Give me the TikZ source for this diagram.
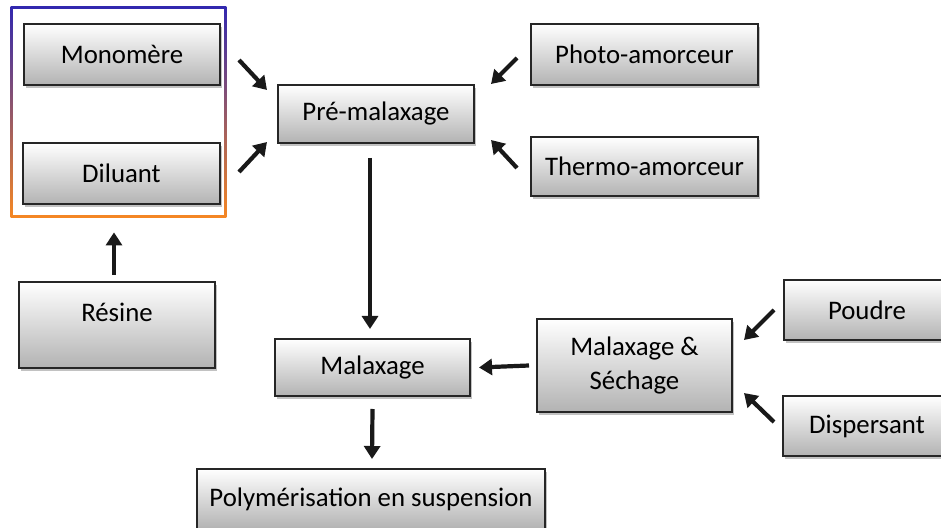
\documentclass[tikz,border=0pt]{standalone}
\usepackage{fontspec}
\setmainfont{Carlito}
\usepackage{tikz}
\usetikzlibrary{arrows.meta,shadows}

\tikzset{
  box/.style={draw=black!85, line width=1pt, top color=white, bottom color=black!30,
    inner sep=2pt, align=center, font=\fontsize{13.4}{17}\selectfont,
    drop shadow={shadow xshift=1.2pt, shadow yshift=-1.5pt, opacity=.4, fill=black!60}},
  arr/.style={-{Triangle[width=8pt,length=6.5pt]}, line width=2.1pt, black!90}
}

\begin{document}
\begin{tikzpicture}[x=0.5pt, y=-0.5pt]
   \useasboundingbox (0,0) rectangle (941,528);
   \clip (0,0) rectangle (941,528);

   % group frame
   \node[inner sep=0, minimum width=107.5pt, minimum height=105pt] (grp) at (118.5,112) {};
   \shade[top color={rgb,255:red,50;green,40;blue,175}, middle color={rgb,255:red,215;green,30;blue,85},
          bottom color={rgb,255:red,245;green,135;blue,35}]
      (grp.north west) rectangle (grp.south east);
   \fill[white] ([shift={(2,2)}]grp.north west) rectangle ([shift={(-2,-2)}]grp.south east);

   \node[box, minimum width=98pt, minimum height=30.5pt] (mono) at (122,54.5) {Monomère};
   \node[box, minimum width=98.5pt, minimum height=30.5pt] (dil) at (121.5,173.5) {Diluant};
   \node[box, minimum width=98pt, minimum height=43pt, text depth=13pt] (res) at (117,325) {Résine};
   \node[box, minimum width=98pt, minimum height=29pt] (pre) at (376,114) {Pré-malaxage};
   \node[box, minimum width=113.5pt, minimum height=30.5pt] (photo) at (644.5,54.5) {Photo-amorceur};
   \node[box, minimum width=113.5pt, minimum height=29.5pt] (thermo) at (644.5,166.5) {Thermo-amorceur};
   \node[box, minimum width=97.5pt, minimum height=28.5pt] (mal) at (372.5,367.5) {Malaxage};
   \node[box, minimum width=97.5pt, minimum height=46.5pt] (ms) at (634.5,365.5) {Malaxage \&\\Séchage};
   \node[box, minimum width=83pt, minimum height=30pt] (poudre) at (867,310) {Poudre};
   \node[box, minimum width=84pt, minimum height=30pt] (disp) at (867,426) {Dispersant};
   \node[box, minimum width=174pt, minimum height=30pt] (polym) at (371,499) {Polymérisation en suspension};

   % arrows
   \draw[arr] ([shift={(18,5.5)}]mono.east) -- ([shift={(-10,-24)}]pre.west);
   \draw[arr] ([shift={(18,-1.5)}]dil.east) -- ([shift={(-10,28)}]pre.west);
   \draw[arr] ([shift={(-13,3.5)}]photo.west) -- ([shift={(16,-30)}]pre.east);
   \draw[arr] ([shift={(-13,1.5)}]thermo.west) -- ([shift={(16,26)}]pre.east);
   \draw[arr] ([shift={(-3,-6)}]res.north) -- ([shift={(-4.5,15)}]grp.south);
   \draw[arr] ([shift={(-6,14)}]pre.south) -- ([shift={(-2.5,-9)}]mal.north);
   \draw[arr] ([shift={(-7,0)}]ms.west) -- ([shift={(8,0)}]mal.east);
   \draw[arr] ([shift={(-9,0)}]poudre.west) -- ([shift={(11,-25.5)}]ms.east);
   \draw[arr] ([shift={(-8,-4)}]disp.west) -- ([shift={(11,27.5)}]ms.east);
   \draw[arr] ([shift={(0,12)}]mal.south) -- ([shift={(1,-9)}]polym.north);
\end{tikzpicture}
\end{document}
